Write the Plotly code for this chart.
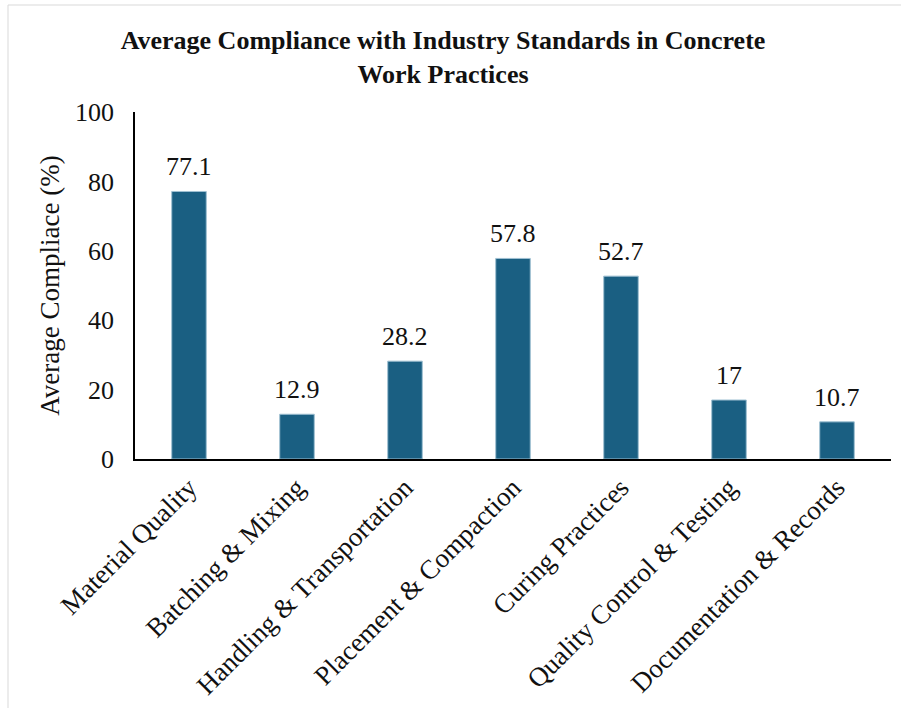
import plotly.graph_objects as go

categories = [
    "Material Quality",
    "Batching & Mixing",
    "Handling & Transportation",
    "Placement & Compaction",
    "Curing Practices",
    "Quality Control & Testing",
    "Documentation & Records",
]
compliance = [77.1, 12.9, 28.2, 57.8, 52.7, 17, 10.7]
value_labels = ["77.1", "12.9", "28.2", "57.8", "52.7", "17", "10.7"]
y_ticks = [0, 20, 40, 60, 80, 100]

FONT = "Liberation Serif, Times New Roman, serif"
BAR = "#1a5f82"

fig = go.Figure(
    go.Bar(
        x=categories,
        y=compliance,
        marker=dict(color=BAR, line=dict(color="#9fc0d2", width=1)),
        width=0.32,
        hoverinfo="x+y",
    )
)

# value labels above each bar
for cat, val, lab in zip(categories, compliance, value_labels):
    fig.add_annotation(
        x=cat, y=val, text=lab, showarrow=False,
        yanchor="bottom", yshift=8,
        font=dict(family=FONT, size=26, color="#111111"),
    )

W, H = 901, 708
L, R, T, B = 135, 10, 112, 249
PW, PH = W - L - R, H - T - B

# light frame around the chart area
fig.add_shape(
    type="rect", xref="paper", yref="paper",
    x0=(8 - L) / PW, x1=(W + 20 - L) / PW,
    y0=-(B + 20) / PH,
    y1=1 + (T - 5) / PH,
    line=dict(color="#d9d9d9", width=1), layer="below",
)

fig.update_layout(
    width=W, height=H,
    margin=dict(l=L, r=R, t=T, b=B),
    paper_bgcolor="white", plot_bgcolor="white",
    showlegend=False,
    font=dict(family=FONT, size=26, color="#111111"),
    title=dict(
        text="<b>Average Compliance with Industry Standards in Concrete<br>Work Practices</b>",
        x=443 / W, xanchor="center", xref="container",
        y=1 - 49 / H, yanchor="middle", yref="container",
        font=dict(family=FONT, size=26, color="#111111"),
    ),
    xaxis=dict(
        showline=True, linecolor="black", linewidth=2,
        ticks="", tickangle=-45, automargin=False,
        tickfont=dict(family=FONT, size=27, color="#111111"),
        showgrid=False, range=[-0.5, 6.5],
    ),
    yaxis=dict(
        range=[0, 100], tickvals=y_ticks, automargin=False,
        showline=True, linecolor="black", linewidth=1.5,
        ticks="", showgrid=False, zeroline=False,
        ticklabelstandoff=14,
        tickfont=dict(family=FONT, size=26, color="#111111"),
        title=dict(text="Average Compliace (%)", standoff=8,
                   font=dict(family=FONT, size=27, color="#111111")),
    ),
)

fig.write_html("out.html")
